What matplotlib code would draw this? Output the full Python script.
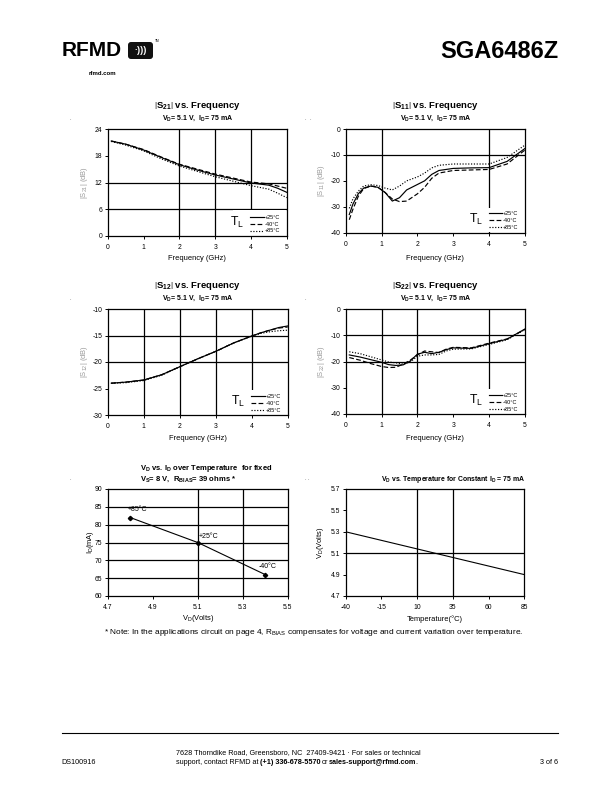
import matplotlib
matplotlib.use('Agg')
import matplotlib.pyplot as plt
from matplotlib.patches import Rectangle, FancyBboxPatch
from matplotlib.lines import Line2D

plt.rcParams['font.family'] = ['Liberation Sans', 'DejaVu Sans']
plt.rcParams['mathtext.fontset'] = 'custom'
plt.rcParams['mathtext.rm'] = 'Liberation Sans'
plt.rcParams['mathtext.it'] = 'Liberation Sans:italic'
plt.rcParams['mathtext.bf'] = 'Liberation Sans:bold'
plt.rcParams['mathtext.sf'] = 'Liberation Sans'
plt.rcParams['axes.unicode_minus'] = False

# ---------------- data ----------------
temp_labels = ['+25°C', '-40°C', '+85°C']

f_s21 = [0.1, 0.5, 1.0, 1.5, 2.0, 2.5, 3.0, 3.5, 4.0, 4.5, 4.75, 5.0]
s21_p25 = [21.3, 20.6, 19.3, 17.6, 16.0, 14.8, 13.7, 12.8, 11.9, 11.4, 10.7, 9.8]
s21_m40 = [21.3, 20.6, 19.4, 17.7, 16.1, 15.0, 13.9, 13.0, 12.1, 11.7, 11.2, 10.7]
s21_p85 = [21.2, 20.4, 19.1, 17.3, 15.7, 14.5, 13.3, 12.3, 11.3, 10.5, 9.6, 8.6]

f_s11 = [0.1, 0.2, 0.35, 0.5, 0.7, 0.9, 1.1, 1.3, 1.5, 1.7, 2.0, 2.2, 2.4, 2.6, 3.0, 3.5, 4.0, 4.5, 5.0]
s11_p25 = [-33.0, -29.0, -25.0, -22.8, -22.0, -22.5, -24.5, -27.8, -26.5, -23.5, -21.4, -20.0, -17.5, -16.0, -15.2, -15.0, -14.9, -12.5, -7.5]
s11_m40 = [-35.0, -31.0, -26.0, -23.0, -22.0, -22.5, -24.5, -27.0, -28.0, -27.8, -25.0, -22.5, -19.0, -17.0, -16.0, -15.8, -15.6, -13.5, -8.1]
s11_p85 = [-30.6, -27.0, -24.0, -22.0, -21.5, -21.8, -22.8, -23.5, -22.0, -20.0, -18.5, -17.0, -15.0, -14.0, -13.5, -13.5, -13.5, -11.0, -6.2]

f_s12 = [0.1, 0.5, 1.0, 1.5, 2.0, 2.5, 3.0, 3.5, 4.0, 4.25, 4.5, 4.75, 5.0]
s12_p25 = [-24.0, -23.8, -23.4, -22.4, -20.9, -19.4, -18.0, -16.4, -15.1, -14.5, -14.0, -13.5, -13.2]
s12_m40 = [-24.0, -23.8, -23.4, -22.4, -20.9, -19.4, -18.0, -16.4, -15.1, -14.5, -14.0, -13.6, -13.4]
s12_p85 = [-24.0, -23.9, -23.5, -22.5, -20.9, -19.4, -18.0, -16.4, -15.1, -14.6, -14.3, -14.1, -14.0]

f_s22 = [0.1, 0.4, 0.7, 1.0, 1.2, 1.4, 1.6, 1.8, 2.0, 2.2, 2.4, 2.6, 2.8, 3.0, 3.5, 4.0, 4.5, 5.0]
s22_p25 = [-17.5, -18.3, -19.3, -20.3, -21.2, -21.5, -21.3, -19.8, -17.2, -16.5, -17.0, -16.5, -15.5, -14.8, -15.0, -13.2, -11.5, -7.6]
s22_m40 = [-18.5, -19.5, -20.8, -21.9, -22.3, -22.2, -21.0, -19.5, -17.5, -16.0, -16.3, -16.6, -15.3, -14.6, -14.8, -13.0, -11.4, -7.8]
s22_p85 = [-16.3, -17.0, -18.2, -19.4, -20.2, -20.5, -21.0, -20.2, -18.0, -17.5, -17.5, -17.3, -16.0, -15.3, -15.2, -13.5, -11.7, -7.8]

vd_points = [4.8, 5.1, 5.4]
id_points = [82, 75, 66]
point_labels = ['+85°C', '+25°C', '-40°C']

temp_c = [-40, 85]
vd_vs_temp = [5.3, 4.9]

freq_ticks = [0, 1, 2, 3, 4, 5]

# ---------------- figure ----------------
W, H = 612, 792
fig = plt.figure(figsize=(6.12, 7.92), dpi=100)
bg = fig.add_axes([0, 0, 1, 1])
bg.set_xlim(0, W)
bg.set_ylim(H, 0)
bg.axis('off')

styles = ['-', (0, (4, 2)), (0, (1, 1.4))]
TICK = 4.9
LAB = 5.4


def ax_px(l, t, r, b):
    ax = fig.add_axes([l / W, 1 - b / H, (r - l) / W, (b - t) / H])
    ax._rect_px = (l, t, r, b)
    for s in ax.spines.values():
        s.set_linewidth(0.9)
        s.set_zorder(4)
    ax.tick_params(direction='out', length=2.5, width=0.7, labelsize=TICK)
    ax.tick_params(axis='x', pad=3.2)
    ax.tick_params(axis='y', pad=1.5)
    return ax


def labels(ax, xl, yl, xl_y, yl_x, ycolor='black'):
    l, t, r, b = ax._rect_px
    ax.set_xlabel(xl, fontsize=LAB, va='center')
    ax.set_ylabel(yl, fontsize=LAB, va='center', color=ycolor)
    ax.xaxis.set_label_coords(0.5, (b - xl_y) / (b - t))
    ax.yaxis.set_label_coords((yl_x - l) / (r - l), 0.5)


def grid(ax, vlines, hlines):
    for v in vlines:
        ax.axvline(v, color='black', lw=0.9, zorder=1)
    for h in hlines:
        ax.axhline(h, color='black', lw=0.9, zorder=1)


def s_chart(rect, f, series, ylim, yticks, vg, hg, sub, title_y, xl_y, yl_x):
    ax = ax_px(*rect)
    grid(ax, vg, hg)
    ax.add_patch(Rectangle((0.7, 0.004), 0.295, 0.236, transform=ax.transAxes,
                           facecolor='white', edgecolor='none', zorder=2))
    for vals, ls, lab in zip(series, styles, temp_labels):
        ax.plot(f, vals, color='black', lw=0.85, ls=ls, zorder=3, label=lab)
    ax.set_xlim(0, 5)
    ax.set_ylim(*ylim)
    ax.set_xticks(freq_ticks)
    ax.set_yticks(yticks)
    leg = ax.legend(handles=[Line2D([], [], color='black', lw=0.85, ls=s) for s in styles],
                    labels=temp_labels, loc='lower right', bbox_to_anchor=(0.975, 0.0),
                    fontsize=4.0, frameon=False, handlelength=2.4, handletextpad=0.1,
                    labelspacing=0.35, borderpad=0.25, borderaxespad=0.2)
    leg.set_zorder(5)
    ax.text(0.725, 0.13, r'T$_{\mathregular{L}}$', transform=ax.transAxes, fontsize=8.8,
            ha='center', va='center', zorder=6)
    l, t, r, b = rect
    cx = (l + r) / 2
    bg.text(cx, title_y, r'$\left|\mathbf{S}_{\mathbf{%s}}\right|$ vs. Frequency' % sub,
            fontsize=6.8, fontweight='bold', ha='center', va='center')
    bg.text(cx, title_y + 11.5, r'$\mathbf{V}_{\mathbf{D}}$= 5.1 V,  $\mathbf{I}_{\mathbf{D}}$= 75 mA',
            fontsize=5.0, fontweight='bold', ha='center', va='center')
    labels(ax, 'Frequency (GHz)', r'$|\mathrm{S}_{%s}|$ (dB)' % sub, xl_y, yl_x, ycolor='#9a9a9a')
    return ax


s_chart((107.7, 129, 286.7, 236), f_s21, [s21_p25, s21_m40, s21_p85], (0, 24),
        [0, 6, 12, 18, 24], [2, 3, 4], [6, 12], '21', 106.5, 259, 84.5)
s_chart((345.7, 129, 525, 232.7), f_s11, [s11_p25, s11_m40, s11_p85], (-40, 0),
        [-40, -30, -20, -10, 0], [1, 4], [-10], '11', 106.5, 258.5, 321.5)
s_chart((107.7, 309, 287.7, 415), f_s12, [s12_p25, s12_m40, s12_p85], (-30, -10),
        [-30, -25, -20, -15, -10], [1, 2, 3, 4], [-15, -20], '12', 286.5, 439, 84.5)
s_chart((345.7, 309, 525, 414), f_s22, [s22_p25, s22_m40, s22_p85], (-40, 0),
        [-40, -30, -20, -10, 0], [1, 2, 4], [-10, -20], '22', 286.5, 439, 321.5)

# ---- Chart 5: VD vs ID ----
ax5 = ax_px(107.7, 489, 287.7, 596)
grid(ax5, [5.1, 5.3], [65, 70, 75, 80, 85])
ax5.plot(vd_points, id_points, color='black', lw=0.8, marker='D', ms=2.2, zorder=3)
for x, y, lab, off in zip(vd_points, id_points, point_labels, [(-2, 3), (1, 1.5), (-5, 3)]):
    ax5.annotate(lab, (x, y), xytext=off, textcoords='offset points', fontsize=5,
                 ha='left', va='bottom', zorder=5)
ax5.set_xlim(4.7, 5.5)
ax5.set_ylim(60, 90)
ax5.set_xticks([4.7, 4.9, 5.1, 5.3, 5.5])
ax5.set_xticklabels(['4.7', '4.9', '5.1', '5.3', '5.5'])
ax5.set_yticks([60, 65, 70, 75, 80, 85, 90])
labels(ax5, r'V$_{\mathregular{D}}$(Volts)', r'I$_{\mathregular{D}}$(mA)', 619, 90.5)
bg.text(140, 469, r'$\mathbf{V}_{\mathbf{D}}$ vs. $\mathbf{I}_{\mathbf{D}}$ over Temperature  for fixed',
        fontsize=5.5, fontweight='bold', ha='left', va='center')
bg.text(140, 479.5, r'$\mathbf{V}_{\mathbf{S}}$= 8 V,  $\mathbf{R}_{\mathbf{BIAS}}$= 39 ohms *',
        fontsize=5.5, fontweight='bold', ha='left', va='center')

# ---- Chart 6: VD vs Temperature ----
ax6 = ax_px(345.7, 489, 524.3, 596)
grid(ax6, [10, 35], [5.1])
ax6.plot(temp_c, vd_vs_temp, color='black', lw=0.8, zorder=3)
ax6.set_xlim(-40, 85)
ax6.set_ylim(4.7, 5.7)
ax6.set_xticks([-40, -15, 10, 35, 60, 85])
ax6.set_yticks([4.7, 4.9, 5.1, 5.3, 5.5, 5.7])
ax6.set_yticklabels(['4.7', '4.9', '5.1', '5.3', '5.5', '5.7'])
labels(ax6, 'Temperature(°C)', r'V$_{\mathregular{D}}$(Volts)', 619, 320)
bg.text(453, 479.5, r'$\mathbf{V}_{\mathbf{D}}$ vs. Temperature for Constant $\mathbf{I}_{\mathbf{D}}$ = 75 mA',
        fontsize=4.95, fontweight='bold', ha='center', va='center')

# small stray dots present on the page
for (dx, dy) in [(70, 119), (310, 118), (305, 119), (70, 298), (305, 299), (70, 479), (308, 479), (305, 479)]:
    bg.text(dx, dy, '.', fontsize=4, ha='center', va='center', color='#444444')

# ---- note ----
bg.text(314, 633, r'* Note: In the applications circuit on page 4, R$_{\mathregular{BIAS}}$ compensates for voltage and current variation over temperature.',
        fontsize=5.95, ha='center', va='center')

# ---- header ----
bg.text(62, 50, 'RFMD', fontsize=15, fontweight='bold', ha='left', va='center')
bg.add_patch(FancyBboxPatch((128, 42), 25, 17, boxstyle='round,pad=0,rounding_size=3',
                            facecolor='#111111', edgecolor='none'))
bg.text(140.5, 50.5, '·)))', fontsize=6.5, fontweight='bold', color='white', ha='center', va='center')
bg.text(155, 41, 'TM', fontsize=2.3, ha='left', va='center')
bg.text(102.7, 73.3, 'rfmd.com', fontsize=4.3, fontweight='bold', ha='center', va='center')
bg.text(558, 52, 'SGA6486Z', fontsize=17, fontweight='bold', ha='right', va='center')

# ---- footer ----
bg.plot([62, 558], [733, 733], color='black', lw=0.8)
FS = 5.2
bg.text(61, 762, 'DS100916', fontsize=FS, ha='left', va='center')
bg.text(558, 762, '3 of 6', fontsize=FS, ha='right', va='center')
bg.text(176, 752.5, '7628 Thorndike Road, Greensboro, NC  27409-9421 · For sales or technical',
        fontsize=FS, ha='left', va='center')

renderer = fig.canvas.get_renderer()
space = FS * 100 / 72 * 0.28
x = 176
runs = [('support, contact RFMD at', False, True), ('(+1) 336-678-5570', True, True),
        ('or', False, True), ('sales-support@rfmd.com', True, False), ('.', False, False)]
for txt, bold, gap in runs:
    t = bg.text(x, 762, txt, fontsize=FS, fontweight='bold' if bold else 'normal',
                ha='left', va='center')
    x += t.get_window_extent(renderer).width - 0.8 + (space if gap else 0)

fig.savefig('out.png', dpi=100)
